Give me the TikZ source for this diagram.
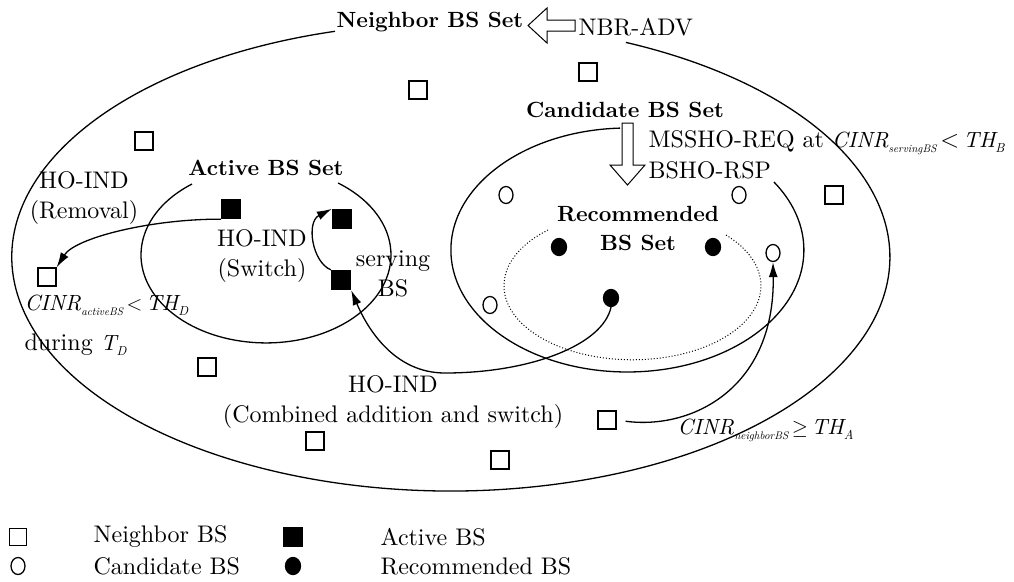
\documentclass[tikz,border=0pt]{standalone}
\usepackage{fontspec}
\setmainfont{lmroman10-regular}[Extension=.otf, BoldFont=lmroman10-bold, ItalicFont=lmroman10-italic, BoldItalicFont=lmroman10-bolditalic]
\usetikzlibrary{arrows.meta,shapes.geometric}
\newcommand{\lo}[2]{\raisebox{-5pt}{\fontsize{#1}{#1}\selectfont\itshape #2}}
\newcommand{\cinr}[1]{{\fontsize{22}{26}\selectfont\itshape CINR}\lo{11}{#1}}
\newcommand{\thr}[1]{{\fontsize{22}{26}\selectfont\itshape TH}\lo{13}{#1}}

\begin{document}
\begin{tikzpicture}[x=1pt, y=-1pt, line width=1.3pt,
  every node/.style={inner sep=0pt, font=\fontsize{24}{30}\selectfont},
  nbr/.style={draw, fill=white, minimum size=18pt},
  act/.style={draw, fill=black, minimum size=19pt},
  cand/.style={draw, fill=white, ellipse, minimum width=14pt, minimum height=17pt},
  rec/.style={draw, fill=black, ellipse, minimum width=15pt, minimum height=17pt},
  ttl/.style={align=center, font=\bfseries\fontsize{22}{29}\selectfont},
  lab/.style={align=center},
  mth/.style={anchor=west, font=\fontsize{22}{26}\selectfont},
  hop/.style={-{Latex[length=15pt, width=9pt]}},
  blk/.style={fill=white, line width=1pt, line join=miter}]
\useasboundingbox (0,0) rectangle (1014,581);

% the four sets
\draw (335,31.3) arc[start angle=105.3, end angle=426.5, x radius=439pt, y radius=234pt];
\draw (192,184) arc[start angle=126.3, end angle=414.8, x radius=125pt, y radius=88pt];
\draw (620,128.1) arc[start angle=92.4, end angle=393.9, x radius=176.5pt, y radius=122pt];
\draw[dotted, line width=1pt] (548,230) arc[start angle=131.1, end angle=403.9, x radius=128.5pt, y radius=74pt];

% block arrows
\draw[blk] (528,25.5) -- (547,8) -- (547,20) -- (575,20) -- (575,31) -- (547,31) -- (547,43) -- cycle;
\draw[blk] (627.5,185) -- (610,165) -- (622,165) -- (622,123) -- (633,123) -- (633,165) -- (645,165) -- cycle;

% neighbor BS
\node[nbr] (n1) at (144,141) {};
\node[nbr] (n2) at (47,277) {};
\node[nbr] (n3) at (418,90) {};
\node[nbr] (n4) at (588,72) {};
\node[nbr] (n5) at (834,195) {};
\node[nbr] (n6) at (207,367) {};
\node[nbr] (n7) at (315,441) {};
\node[nbr] (n8) at (607,420) {};
\node[nbr] (n9) at (500,460) {};

% active BS
\node[act] (a1) at (231,209) {};
\node[act] (a2) at (342,219) {};
\node[act] (a3) at (341,280) {};

% candidate BS
\node[cand] (c1) at (506,195) {};
\node[cand] (c2) at (739,195) {};
\node[cand] (c3) at (773,253) {};
\node[cand] (c4) at (490,305) {};

% recommended BS
\node[rec] (r1) at (559,247) {};
\node[rec] (r2) at (713,247) {};
\node[rec] (r3) at (611,298) {};

% labels
\node[ttl] (nset) at (430,22) {Neighbor BS Set};
\node[anchor=west] (nadv) at (578,27) {NBR-ADV};
\node[ttl] (cset) at (625,110) {Candidate BS Set};
\node[anchor=west] (req) at (648,143) {MSSHO-REQ at \cinr{servingBS}\,$<$\,\thr{B}};
\node[anchor=west] (rsp) at (648,170) {BSHO-RSP};
\node[ttl] (rset) at (638,228) {Recommended\\BS Set};
\node[ttl] (aset) at (266,168) {Active BS Set};
\node[lab] (hrem) at (84,198) {HO-IND\\(Removal)};
\node[lab] (hsw) at (262,256) {HO-IND\\(Switch)};
\node[lab] (srv) at (393,274) {serving\\BS};
\node[mth] (cact) at (24,305) {\cinr{activeBS}\,$<$\,\thr{D}};
\node[anchor=west] (dur) at (24,345) {during {\fontsize{22}{26}\selectfont\itshape T}\lo{13}{D}};
\node[lab] (hcomb) at (393,402) {HO-IND\\(Combined addition and switch)};
\node[mth] (cnbr) at (677,430) {\cinr{neighborBS}\,$\geq$\,\thr{A}};

% handover messages
\draw[hop] (a1.south west) .. controls (150,219) and (75,238) .. (n2.north east);
\draw[hop] (a3.north west) .. controls (312,262) and (306,222) .. (a2.north west);
\draw[hop] (r3.south) .. controls (603,345) and (530,373) .. (445,373) .. controls (395,373) and (368,330) .. (a3.south east);
\draw[hop, shorten <=9pt] (n8.east) .. controls (690,430) and (775,390) .. (c3.south);

% legend
\node[nbr, minimum size=17pt] (kn) at (18,537) {};
\node[anchor=west] (tn) at (93,537) {Neighbor BS};
\node[act, minimum size=18pt] (ka) at (293,537) {};
\node[anchor=west] (ta) at (380,537) {Active BS};
\node[cand] (kc) at (18,566) {};
\node[anchor=west] (tc) at (93,566) {Candidate BS};
\node[rec] (kr) at (293,566) {};
\node[anchor=west] (tr) at (380,566) {Recommended BS};
\end{tikzpicture}
\end{document}
